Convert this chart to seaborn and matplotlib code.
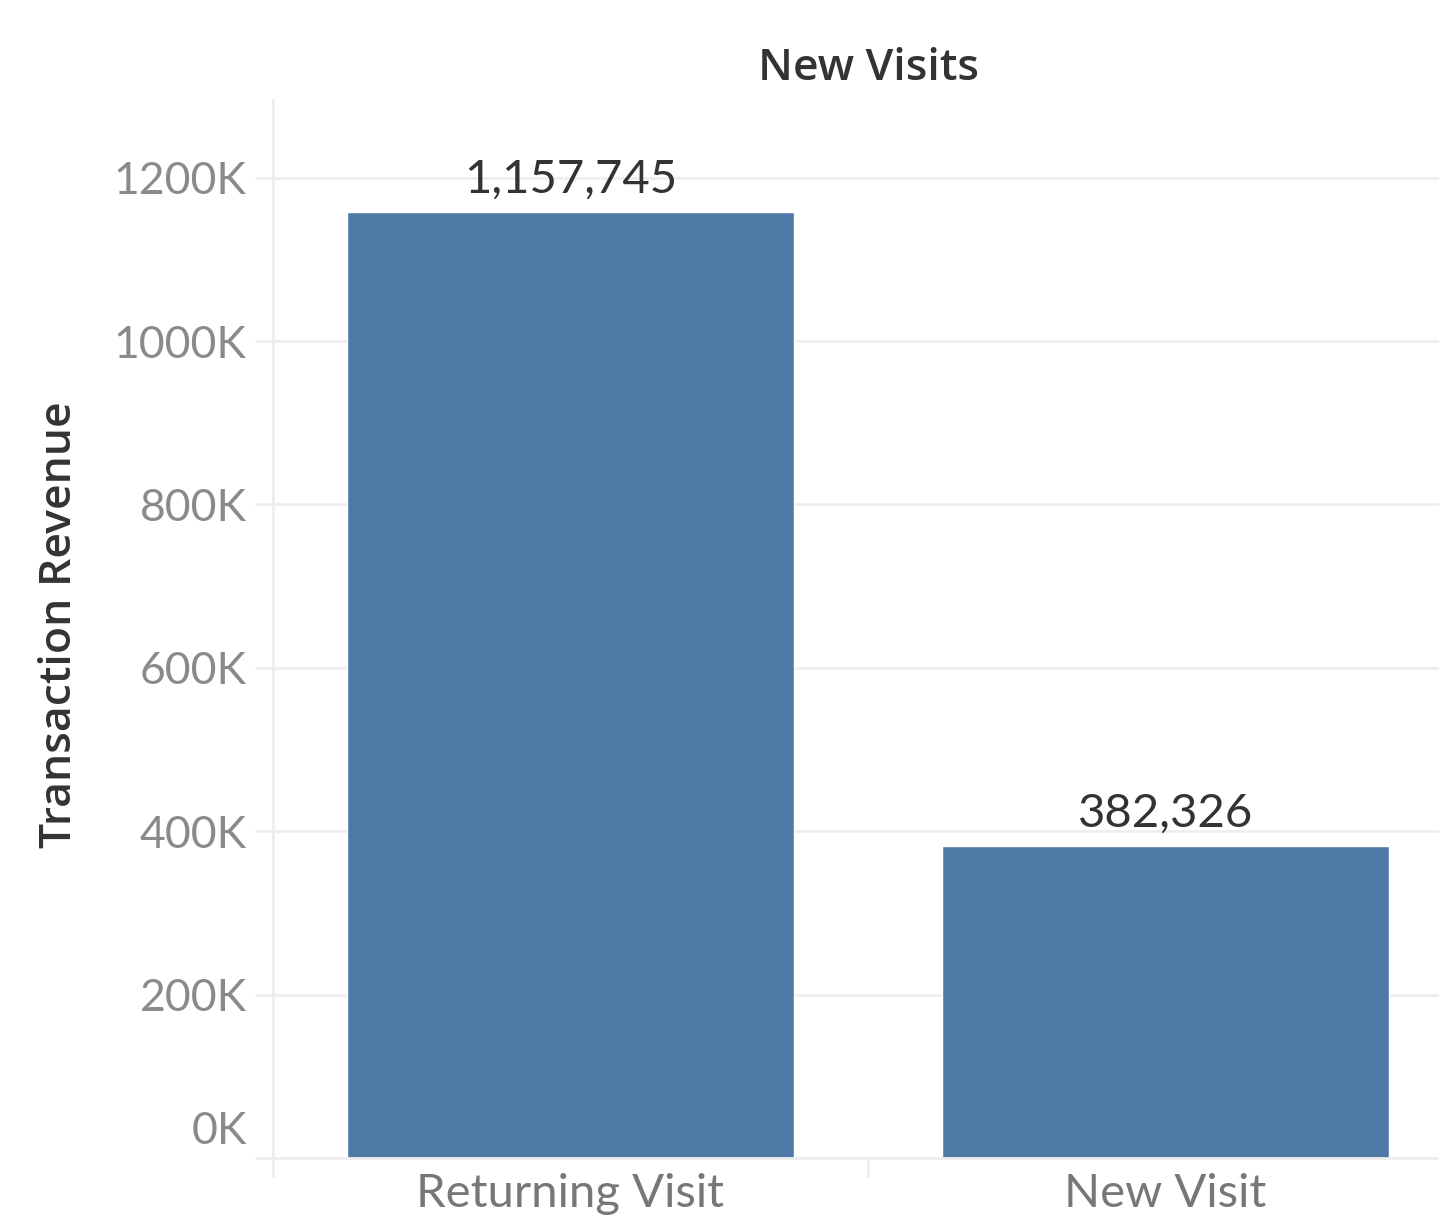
import matplotlib
matplotlib.use("Agg")
import matplotlib.pyplot as plt
import matplotlib.transforms as mtransforms
from matplotlib.ticker import FixedLocator
import seaborn as sns
import pandas as pd

categories = ["Returning Visit", "New Visit"]
revenue = [1157745, 382326]
ytick_values = [0, 200000, 400000, 600000, 800000, 1000000, 1200000]
ytick_labels = ["0K", "200K", "400K", "600K", "800K", "1000K", "1200K"]

sns.set_theme(style="white")
plt.rcParams['font.family'] = ['Lato', 'DejaVu Sans']

df = pd.DataFrame({"Visit": categories, "Revenue": revenue})

fig = plt.figure(figsize=(14.39, 12.26), dpi=100)
ax = fig.add_axes([273/1439, 1 - 1158/1226, 1 - 273/1439, (1158 - 100)/1226])

sns.barplot(data=df, x="Visit", y="Revenue", color="#4e79a7", width=0.75,
            saturation=1, ax=ax)

ax.set_xlim(-0.5, 0.5 + (1439 - 868) / 595)
ax.set_ylim(0, 1295000)

for c in ax.containers:
    ax.bar_label(c, labels=[f"{v:,.0f}" for v in revenue], padding=8,
                 fontsize=34, color="#333333")

ax.set_yticks(ytick_values)
ax.set_yticklabels(ytick_labels, fontsize=32, color="#8a8a8a")
ax.yaxis.grid(True, color="#eeeeee", linewidth=2)
ax.tick_params(axis="y", length=13, width=2, color="#eeeeee", pad=6, left=True)

ax.set_xticks([0, 1])
ax.set_xticklabels(categories, fontsize=34, color="#777777")
ax.tick_params(axis="x", which="major", length=0, pad=11)
ax.xaxis.set_minor_locator(FixedLocator([-0.5, 0.5]))
ax.tick_params(axis="x", which="minor", length=14, width=2, color="#eeeeee",
               bottom=True)

# shift 0K label above the baseline
lab0 = ax.get_yticklabels()[0]
lab0.set_transform(lab0.get_transform() +
                   mtransforms.ScaledTranslation(0, 0.30, fig.dpi_scale_trans))

for s in ["top", "right"]:
    ax.spines[s].set_visible(False)
ax.spines["left"].set_color("#eeeeee")
ax.spines["left"].set_linewidth(2)
ax.spines["bottom"].set_color("#eeeeee")
ax.spines["bottom"].set_linewidth(2)

ax.set_xlabel("")
ax.set_ylabel("")

fig.text(868/1439, 1 - 68/1226, "New Visits", ha="center", va="center",
         fontsize=32, color="#333333", fontweight="semibold",
         family=["Open Sans", "DejaVu Sans"])
fig.text(60/1439, 1 - 625/1226, "Transaction Revenue", ha="center", va="center",
         rotation=90, fontsize=32, color="#333333", fontweight="semibold",
         family=["Open Sans", "DejaVu Sans"])

fig.savefig("out.png", dpi=100, facecolor="white")
